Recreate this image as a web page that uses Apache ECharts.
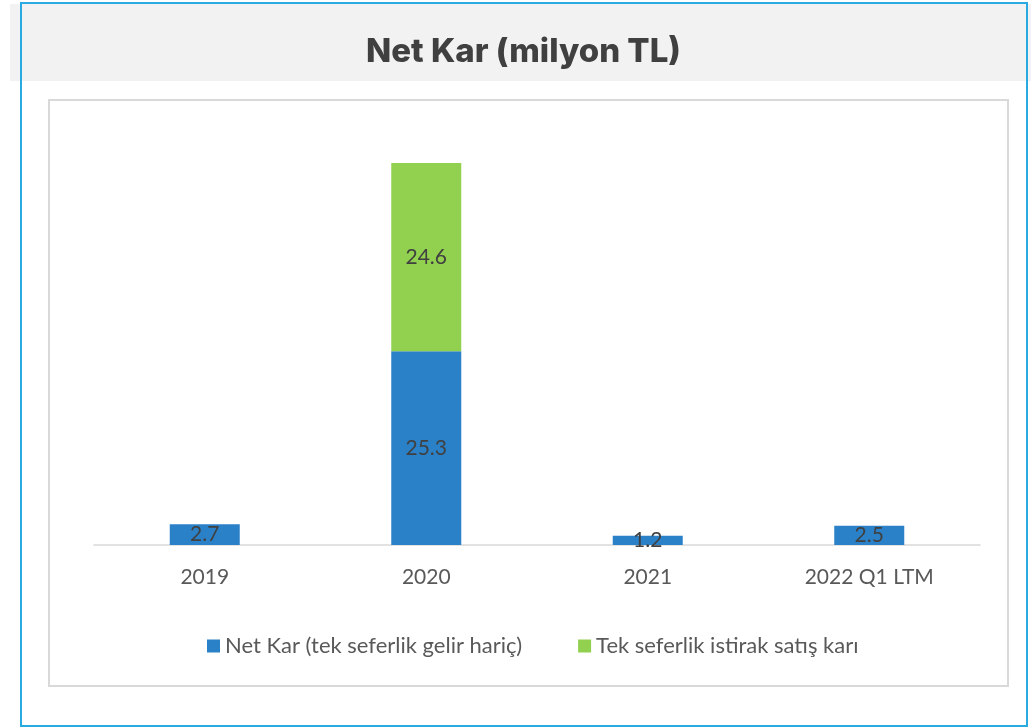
<!DOCTYPE html>
<html>
<head>
<meta charset="utf-8">
<script src="https://cdn.jsdelivr.net/npm/echarts@6/dist/echarts.min.js"></script>
<style>
  html, body { margin: 0; padding: 0; background: #fff; }
  #main { width: 1031px; height: 728px; }
</style>
</head>
<body>
<div id="main"></div>
<script>
// kategoriler ve seriler
const categories = ['2019', '2020', '2021', '2022 Q1 LTM'];
const netKar = [2.7, 25.3, 1.2, 2.5];
const tekSeferlik = [null, 24.6, null, null];
const seriesNames = ['Net Kar (tek seferlik gelir hariç)', 'Tek seferlik istirak satış karı'];

const chart = echarts.init(document.getElementById('main'));

const labelStyle = {
  show: true,
  position: 'inside',
  color: '#404040',
  fontFamily: 'Lato',
  fontSize: 21
};

chart.setOption({
  animation: false,
  // arka plan kutuları
  graphic: [
    {
      type: 'rect',
      shape: { x: 10, y: 4, width: 1021, height: 77 },
      style: { fill: '#f2f2f2' },
      z: -10
    },
    {
      type: 'rect',
      shape: { x: 21, y: 3, width: 1006, height: 723 },
      style: { fill: 'none', stroke: '#29abe2', lineWidth: 2 },
      z: -9
    },
    {
      type: 'rect',
      shape: { x: 49, y: 100, width: 959, height: 586 },
      style: { fill: 'none', stroke: '#d9d9d9', lineWidth: 2 },
      z: -9
    }
  ],
  title: {
    text: 'Net Kar (milyon TL)',
    left: 361,
    top: 31,
    textStyle: {
      fontFamily: 'Inter',
      fontWeight: 800,
      fontSize: 33,
      color: '#404040'
    }
  },
  legend: {
    bottom: 66,
    left: 202,
    itemWidth: 13,
    itemHeight: 13,
    itemGap: 56,
    icon: 'rect',
    textStyle: {
      fontFamily: 'Lato',
      fontSize: 22,
      color: '#595959'
    },
    data: seriesNames
  },
  grid: {
    left: 94,
    right: 51,
    top: 124,
    bottom: 183
  },
  xAxis: {
    type: 'category',
    data: categories,
    axisTick: { show: false },
    axisLine: { lineStyle: { color: '#d9d9d9', width: 1.5 } },
    axisLabel: {
      margin: 22,
      fontFamily: 'Lato',
      fontSize: 21,
      color: '#595959'
    }
  },
  yAxis: {
    type: 'value',
    min: 0,
    max: 55,
    show: false,
    splitLine: { show: false }
  },
  series: [
    {
      name: seriesNames[0],
      type: 'bar',
      stack: 'toplam',
      barWidth: 70,
      data: netKar,
      itemStyle: { color: '#2a81c8' },
      label: labelStyle
    },
    {
      name: seriesNames[1],
      type: 'bar',
      stack: 'toplam',
      barWidth: 70,
      data: tekSeferlik,
      itemStyle: { color: '#92d050' },
      label: labelStyle
    }
  ]
});
</script>
</body>
</html>
